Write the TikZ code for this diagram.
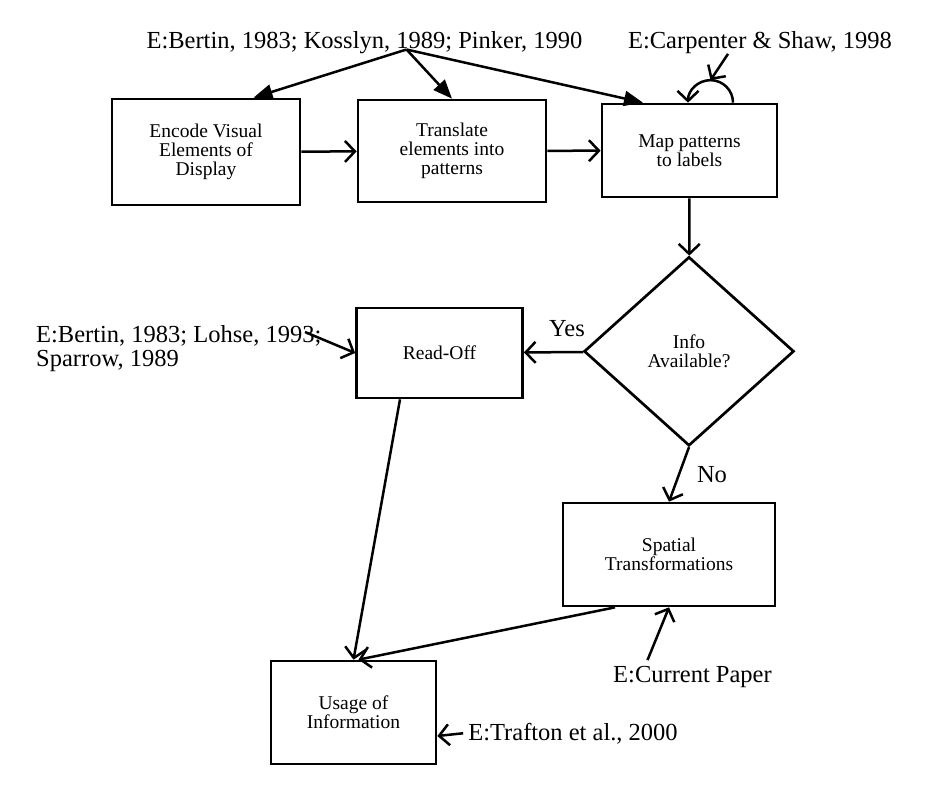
\documentclass[tikz,border=0pt]{standalone}
\usepackage{fontspec}
\setmainfont{Liberation Serif}
\usetikzlibrary{arrows.meta,shapes.geometric}
\tikzstyle{every node}=[font=\fontsize{19.5}{19}\selectfont]
\tikzstyle{process}=[rectangle,
                     draw=black,
                     line width=2.7pt,
                     inner sep=0pt,
                     align=center
                     ]
\tikzstyle{decision}=[diamond,
                      draw=black,
                      line width=2.7pt,
                      inner sep=0pt,
                      align=center,
                      minimum width=210pt,
                      minimum height=189pt]
\tikzstyle{evidence}=[font=\fontsize{24.5}{24}\selectfont,
                      inner sep=0pt]
\tikzstyle{flowarrow}=[line width=2.5pt,-{Straight Barb[length=10pt,width=21pt]}]
\tikzstyle{citearrow}=[line width=2.5pt,-{Triangle[length=19pt,width=15pt]}]
\begin{document}
\begin{tikzpicture}[x=1pt,y=1pt]
\useasboundingbox (0,0) rectangle (932,-785);
\node (Enc)   [process,minimum width=188pt,minimum height=106pt] at (206,-152) {Encode Visual\\Elements of\\Display};
\node (Trans) [process,minimum width=188pt,minimum height=102pt] at (452,-151) {Translate\\elements into\\patterns};
\node (Map)   [process,minimum width=175pt,minimum height=93pt] at (689.5,-150.5) {Map patterns\\to labels};
\node (Info)  [decision] at (689,-351.3) {Info\\Available?};
\node (Read)  [process,minimum width=166pt,minimum height=90pt] at (439.5,-353) {Read-Off};
\node (Spat)  [process,minimum width=212pt,minimum height=103pt] at (669,-554.5) {Spatial\\Transformations};
\node (Use)   [process,minimum width=165pt,minimum height=103pt] at (353.5,-712.5) {Usage of\\Information};
% evidence labels
\node (TopRef)   [evidence,anchor=base] at (364.5,-48.5) {E:Bertin, 1983; Kosslyn, 1989; Pinker, 1990};
\node (CarpRef)  [evidence,anchor=base] at (760,-48.5) {E:Carpenter \& Shaw, 1998};
\node (LohseRef) [evidence,anchor=west,align=left] at (36,-348.5) {E:Bertin, 1983; Lohse, 1993;\\Sparrow, 1989};
\node (CurRef)   [evidence,anchor=base] at (692.5,-682.5) {E:Current Paper};
\node (TrafRef)  [evidence,anchor=base] at (573,-740) {E:Trafton et al., 2000};
\node (Yes)      [evidence,anchor=base] at (567,-336) {Yes};
\node (No)       [evidence,anchor=base] at (712,-482.5) {No};
\coordinate (Fork) at (406.5,-49.5);
\coordinate (LohseTail) at (305,-332);
\coordinate (LoopTop) at ([xshift=21pt,yshift=22.5pt]Map.north);
 \path (Fork) edge[citearrow] ([xshift=47.5pt]Enc.north);
 \path (Fork) edge[citearrow] (Trans.north);
 \path (Fork) edge[citearrow] ([xshift=-46.5pt]Map.north);
 \path (Enc) edge[flowarrow] (Trans);
 \path (Trans) edge[flowarrow] (Map);
 \path (Map) edge[flowarrow] (Info);
 \path (Info) edge[flowarrow] (Read);
 \path (Info.south) edge[flowarrow] (Spat.north);
 \path ([xshift=-39.5pt]Read.south) edge[flowarrow] (Use.north);
 \path ([xshift=-54pt]Spat.south) edge[flowarrow] ([xshift=5pt]Use.north);
 \path (LohseTail) edge[flowarrow] (Read.west);
 \path ([xshift=-45pt,yshift=6pt]CurRef.north) edge[flowarrow] (Spat.south);
 \path ([xshift=-5pt]TrafRef.west) edge[flowarrow] ([yshift=-23.5pt]Use.east);
 \path ([xshift=-32pt]CarpRef.south) edge[flowarrow] (LoopTop);
 \draw[flowarrow] ([xshift=43.5pt]Map.north) arc (0:180:22.5pt);
\end{tikzpicture}
\end{document}
